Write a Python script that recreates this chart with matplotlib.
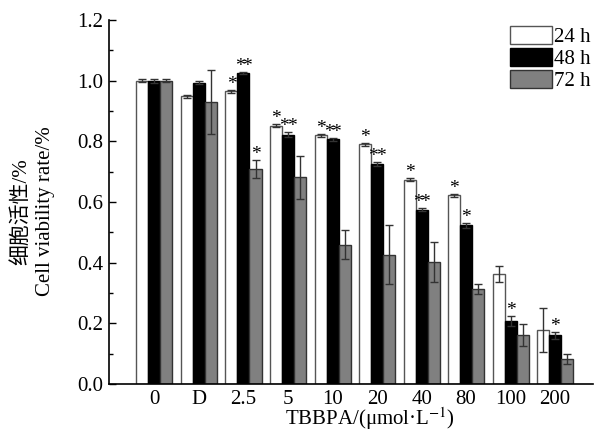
import matplotlib
matplotlib.use("Agg")
import matplotlib.pyplot as plt
import numpy as np
from matplotlib.ticker import MultipleLocator

plt.rcParams['font.family'] = ['Liberation Serif', 'Noto Sans CJK SC', 'DejaVu Serif']
plt.rcParams['mathtext.fontset'] = 'stix'

categories = ['0', 'D', '2.5', '5', '10', '20', '40', '80', '100', '200']
series_labels = ['24 h', '48 h', '72 h']
v24 = [1.000, 0.949, 0.965, 0.851, 0.819, 0.790, 0.674, 0.622, 0.362, 0.178]
v48 = [0.999, 0.993, 1.024, 0.821, 0.806, 0.726, 0.575, 0.523, 0.208, 0.160]
v72 = [1.000, 0.929, 0.709, 0.681, 0.459, 0.426, 0.401, 0.313, 0.161, 0.082]
e24 = [0.005, 0.005, 0.005, 0.005, 0.004, 0.004, 0.005, 0.005, 0.027, 0.072]
e48 = [0.007, 0.005, 0.004, 0.008, 0.005, 0.006, 0.006, 0.008, 0.017, 0.013]
e72 = [0.005, 0.105, 0.030, 0.070, 0.047, 0.097, 0.066, 0.017, 0.037, 0.016]
sig24 = ['', '', '*', '*', '*', '*', '*', '*', '', '']
sig48 = ['', '', '**', '**', '**', '**', '**', '*', '*', '*']
sig72 = ['', '', '*', '', '', '', '', '', '', '']

values = [v24, v48, v72]
errors = [e24, e48, e72]
sigs = [sig24, sig48, sig72]
colors = ['white', 'black', '#808080']
edgecolors = ['#555555', 'black', '#333333']

fig = plt.figure(figsize=(5.99, 4.32), dpi=100)
ax = fig.add_axes([0.182, 0.111, 0.808, 0.843])

x = np.arange(len(categories))
w = 0.27
for i in range(3):
    xs = x + (i - 1) * w
    ax.bar(xs, values[i], width=w, color=colors[i], edgecolor=edgecolors[i],
           linewidth=1.0, label=series_labels[i], zorder=2)
    ax.errorbar(xs, values[i], yerr=errors[i], fmt='none', ecolor='#333333',
                elinewidth=1.0, capsize=3, capthick=1.0, zorder=3)
    for j in range(len(categories)):
        s = sigs[i][j]
        if not s:
            continue
        ytop = values[i][j] + errors[i][j] - 0.010
        if len(s) == 1:
            offs = [0.0]
        else:
            offs = [-0.085, 0.085]
        for o in offs:
            ax.text(xs[j] + o, ytop, '*', ha='center', va='bottom',
                    fontsize=14, color='black')

ax.set_xlim(-1.02, 9.85)
ax.set_ylim(0, 1.2)
ax.set_xticks(x)
ax.set_xticklabels(categories)
ax.yaxis.set_major_locator(MultipleLocator(0.2))
ax.yaxis.set_minor_locator(MultipleLocator(0.1))
ax.yaxis.set_major_formatter(matplotlib.ticker.FormatStrFormatter('%.1f'))
ax.tick_params(axis='y', which='major', direction='in', length=5, width=1, labelsize=15, pad=4)
ax.tick_params(axis='y', which='minor', direction='in', length=3, width=1)
ax.tick_params(axis='x', length=0, labelsize=15, pad=4)
for sp in ['top', 'right']:
    ax.spines[sp].set_visible(False)
for sp in ['left', 'bottom']:
    ax.spines[sp].set_linewidth(1.2)

ax.set_xlabel('TBBPA/(μmol·L$^{-1}$)', fontsize=15)
ax.xaxis.set_label_coords(0.54, -0.058, transform=ax.transAxes)
ax.xaxis.label.set_va('top')
ax.set_ylabel('细胞活性/%\nCell viability rate/%', fontsize=15, linespacing=1.35)
ax.yaxis.set_label_coords(-0.112, 0.474, transform=ax.transAxes)

leg = ax.legend(loc='upper right', bbox_to_anchor=(1.0, 0.99), frameon=False, fontsize=15,
                handlelength=2.05, handleheight=1.0, labelspacing=0.03, handletextpad=0.1,
                borderaxespad=0.0, borderpad=0.1)

fig.savefig('out.png', dpi=100)
